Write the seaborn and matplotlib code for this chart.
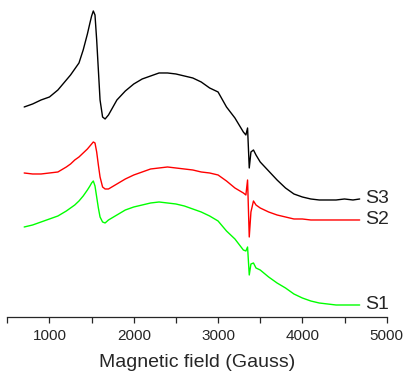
import numpy as np
import pandas as pd
import matplotlib
matplotlib.use("Agg")
import matplotlib.pyplot as plt
import seaborn as sns

# magnetic field grid (Gauss)
field = [700, 800, 900, 1000, 1100, 1200, 1250, 1300, 1350, 1400, 1450, 1480,
         1500, 1520, 1540, 1560, 1580, 1600, 1630, 1660, 1700, 1800, 1900,
         2000, 2100, 2200, 2300, 2400, 2500, 2600, 2700, 2800, 2900, 3000,
         3100, 3200, 3300, 3330, 3350, 3370, 3390, 3420, 3450, 3500, 3600,
         3700, 3800, 3900, 4000, 4100, 4200, 4300, 4400, 4500, 4600, 4680]

# EPR signal (a.u., stacked with offsets)
s3 = [210, 213, 217, 220, 227, 237, 242, 248, 254, 267, 283, 294,
      301, 306, 302, 277, 247, 217, 200, 198, 202, 217, 226,
      233, 238, 241, 244, 244, 243, 241, 239, 235, 229, 225,
      210, 199, 185, 182, 189, 149, 165, 167, 162, 155, 146,
      137, 129, 123, 120, 118, 117, 117, 117, 118, 117, 118]
s2 = [144, 143, 143, 144, 145, 150, 153, 157, 160, 164, 168, 171,
      173, 175, 174, 165, 152, 140, 130, 128, 128, 133, 138,
      142, 145, 148, 149, 150, 149, 148, 147, 145, 144, 142,
      136, 129, 124, 122, 137, 80, 105, 116, 112, 109, 105,
      102, 100, 98, 98, 97, 97, 97, 97, 97, 97, 97]
s1 = [90, 92, 95, 98, 101, 106, 109, 112, 116, 121, 127, 131,
      134, 136, 131, 120, 109, 100, 95, 94, 97, 102, 107,
      110, 112, 114, 115, 114, 113, 111, 108, 105, 101, 96,
      86, 78, 67, 66, 70, 42, 53, 54, 49, 47, 40,
      34, 29, 23, 19, 16, 14, 13, 12, 12, 12, 12]

labels = ["S3", "S2", "S1"]
colors = ["black", "#ff0000", "#00ff00"]

sns.set_style("ticks")
plt.rcParams['font.family'] = ['Liberation Sans', 'DejaVu Sans']

fig = plt.figure(figsize=(4.07, 3.79), dpi=100)
ax = fig.add_axes([0.018, 0.1636, 0.932, 0.818])

for y, c in zip([s3, s2, s1], colors):
    sns.lineplot(x=field, y=y, color=c, lw=1.0, ax=ax)

for y, lab in zip([s3, s2, s1], labels):
    ax.text(field[-1] + 70, y[-1], lab, fontsize=14, va='center', ha='left')

ax.set_xlim(500, 5000)
ax.set_ylim(0, 310)
ax.set_xticks([1000, 2000, 3000, 4000, 5000])
ax.set_xticks(np.arange(500, 5001, 500), minor=True)
ax.set_yticks([])
ax.tick_params(axis='x', which='major', length=4.5, width=0.9, labelsize=11, pad=4)
ax.tick_params(axis='x', which='minor', length=4.5, width=0.9)
for side in ['left', 'right', 'top']:
    ax.spines[side].set_visible(False)
ax.spines['bottom'].set_linewidth(0.9)
ax.set_xlabel("Magnetic field (Gauss)", fontsize=14, labelpad=8)
ax.set_ylabel("")

fig.savefig("out.png", dpi=100)
